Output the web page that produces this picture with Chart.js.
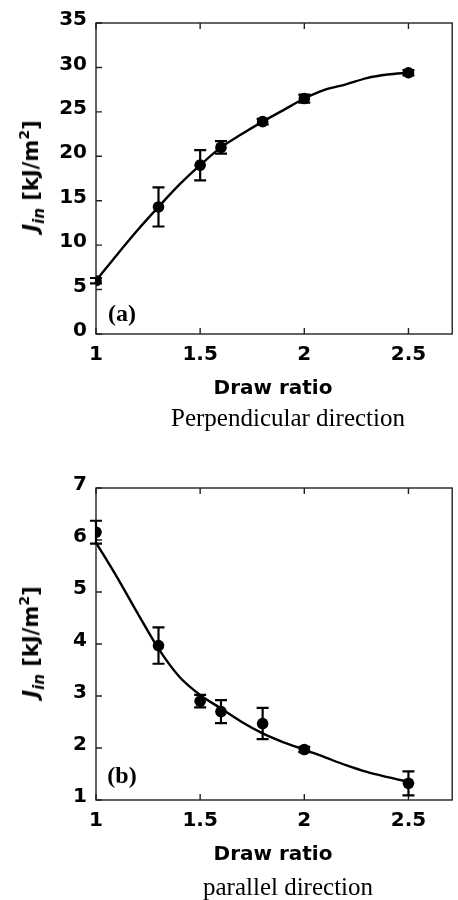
<!DOCTYPE html>
<html lang="en">
<head>
  <meta charset="UTF-8">
  <title>J_in vs draw ratio</title>
  <script src="https://cdn.jsdelivr.net/npm/chart.js"></script>
  <style>
    body { margin: 0; background: #fff; }
    .panel { position: absolute; left: 0; width: 458px; }
    .panel canvas { position: absolute; left: 0; top: 0; }
    .ylab {
      position: absolute; white-space: nowrap;
      font: bold 21px "DejaVu Sans", sans-serif; color: #000;
      transform: translate(-50%, -50%) rotate(-90deg);
    }
    .ylab i { font-style: italic; }
    .ylab sub { font-size: 15px; vertical-align: -6px; font-style: italic; }
    .ylab sup { font-size: 14px; vertical-align: 9px; }
    .xlab {
      position: absolute; white-space: nowrap;
      font: bold 20px "DejaVu Sans", sans-serif;
      transform: translate(-50%, -50%);
    }
    .cap {
      position: absolute; white-space: nowrap;
      font: 25px "Liberation Serif", "Times New Roman", serif;
      transform: translate(-50%, -50%);
    }
    .tag {
      position: absolute; white-space: nowrap;
      font: bold 24px "Liberation Serif", "Times New Roman", serif;
      transform: translate(-50%, -50%);
    }
  </style>
</head>
<body>

<div class="panel" style="top:0; height:440px;">
  <canvas id="chartA" width="458" height="440"></canvas>
  <div class="ylab" style="left:32px; top:176px;"><i>J</i><sub>in</sub> [kJ/m<sup>2</sup>]</div>
  <div class="tag" style="left:122px; top:313px;">(a)</div>
  <div class="xlab" style="left:273px; top:387px;">Draw ratio</div>
  <div class="cap" style="left:288px; top:418px;">Perpendicular direction</div>
</div>

<div class="panel" style="top:440px; height:460px;">
  <canvas id="chartB" width="458" height="460"></canvas>
  <div class="ylab" style="left:32px; top:202px;"><i>J</i><sub>in</sub> [kJ/m<sup>2</sup>]</div>
  <div class="tag" style="left:122px; top:335px;">(b)</div>
  <div class="xlab" style="left:273px; top:413px;">Draw ratio</div>
  <div class="cap" style="left:288px; top:447px;">parallel direction</div>
</div>

<script>
  const drawRatio = [1, 1.3, 1.5, 1.6, 1.8, 2, 2.5];
  const jPerp = [6.0, 14.3, 19.0, 21.0, 23.9, 26.5, 29.4];
  const errPerp = [0.3, 2.2, 1.7, 0.7, 0.3, 0.45, 0.3];
  const jPar = [6.15, 3.97, 2.9, 2.7, 2.47, 1.97, 1.32];
  const errPar = [0.22, 0.35, 0.12, 0.22, 0.3, 0.05, 0.23];

  // curva ajustada
  const fitX = [1, 1.1, 1.2, 1.3, 1.4, 1.5, 1.6, 1.7, 1.8, 1.9, 2, 2.1, 2.2, 2.3, 2.4, 2.5];
  const fitPerp = [6.0, 8.9, 11.7, 14.3, 16.8, 19.0, 21.0, 22.5, 23.9, 25.2, 26.5, 27.5, 28.1, 28.8, 29.2, 29.4];
  const fitPar = [5.95, 5.29, 4.59, 3.91, 3.37, 3.02, 2.76, 2.5, 2.28, 2.11, 1.97, 1.82, 1.67, 1.54, 1.44, 1.35];

  const xTicks = [1, 1.5, 2, 2.5];
  const yTicksA = [0, 5, 10, 15, 20, 25, 30, 35];
  const yTicksB = [1, 2, 3, 4, 5, 6, 7];

  const tickFont = { family: 'DejaVu Sans', size: 20, weight: 'bold' };

  // moldura, ticks internos e barras de erro
  const framePlugin = {
    id: 'frame',
    afterDatasetsDraw(chart, args, opts) {
      const { ctx, chartArea: a, scales: { x, y } } = chart;
      ctx.save();
      ctx.strokeStyle = '#222';
      ctx.lineWidth = 1.4;
      ctx.strokeRect(a.left, a.top, a.right - a.left, a.bottom - a.top);
      ctx.beginPath();
      x.ticks.forEach(t => {
        const px = x.getPixelForValue(t.value);
        ctx.moveTo(px, a.top); ctx.lineTo(px, a.top + 6);
        ctx.moveTo(px, a.bottom); ctx.lineTo(px, a.bottom - 6);
      });
      y.ticks.forEach(t => {
        const py = y.getPixelForValue(t.value);
        ctx.moveTo(a.left, py); ctx.lineTo(a.left + 6, py);
      });
      ctx.stroke();

      ctx.strokeStyle = '#000';
      ctx.lineWidth = 2.2;
      ctx.beginPath();
      opts.xs.forEach((xv, i) => {
        const px = x.getPixelForValue(xv);
        const top = y.getPixelForValue(opts.ys[i] + opts.err[i]);
        const bot = y.getPixelForValue(opts.ys[i] - opts.err[i]);
        ctx.moveTo(px, top); ctx.lineTo(px, bot);
        ctx.moveTo(px - 6, top); ctx.lineTo(px + 6, top);
        ctx.moveTo(px - 6, bot); ctx.lineTo(px + 6, bot);
      });
      ctx.stroke();
      ctx.restore();
    }
  };

  function criarGrafico(id, ys, err, fit, yMin, yMax, yTicks, top, bottom, height) {
    new Chart(document.getElementById(id), {
      type: 'scatter',
      data: {
        datasets: [
          {
            data: fitX.map((v, i) => ({ x: v, y: fit[i] })),
            showLine: true,
            borderColor: '#000',
            borderWidth: 2.4,
            pointRadius: 0,
            cubicInterpolationMode: 'monotone'
          },
          {
            data: drawRatio.map((v, i) => ({ x: v, y: ys[i] })),
            showLine: false,
            pointRadius: 5.8,
            pointBackgroundColor: '#000',
            pointBorderColor: '#000',
            pointBorderWidth: 0
          }
        ]
      },
      options: {
        responsive: false,
        animation: false,
        events: [],
        layout: { padding: { top: top, right: 1, left: 0, bottom: 0 } },
        plugins: {
          legend: { display: false },
          tooltip: { enabled: false },
          frame: { xs: drawRatio, ys: ys, err: err }
        },
        scales: {
          x: {
            type: 'linear',
            min: 1,
            max: 2.71,
            grid: { display: false, drawTicks: false },
            border: { display: false },
            afterBuildTicks: s => { s.ticks = xTicks.map(v => ({ value: v })); },
            afterFit: s => { s.height = height - bottom; },
            ticks: { color: '#000', font: tickFont, padding: 9, maxRotation: 0, callback: v => String(v) }
          },
          y: {
            min: yMin,
            max: yMax,
            grid: { display: false, drawTicks: false },
            border: { display: false },
            afterBuildTicks: s => { s.ticks = yTicks.map(v => ({ value: v })); },
            afterFit: s => { s.width = 96; },
            ticks: { color: '#000', font: tickFont, padding: 9, labelOffset: -3, callback: v => String(v) }
          }
        }
      },
      plugins: [framePlugin]
    });
  }

  criarGrafico('chartA', jPerp, errPerp, fitPerp, 0, 35, yTicksA, 23, 334, 440);
  criarGrafico('chartB', jPar, errPar, fitPar, 1, 7, yTicksB, 48, 360, 460);
</script>

</body>
</html>
